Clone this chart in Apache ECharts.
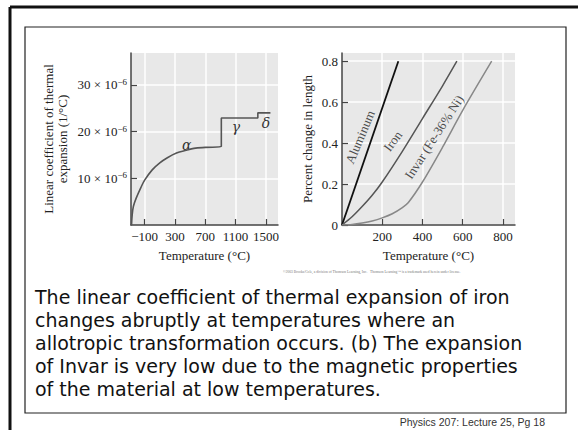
<!DOCTYPE html>
<html>
<head>
<meta charset="utf-8">
<script src="https://cdn.jsdelivr.net/npm/echarts@6/dist/echarts.min.js"></script>
<style>
  html, body { margin: 0; padding: 0; background: #fff; }
  #main { width: 578px; height: 430px; }
</style>
</head>
<body>
<div id="main"></div>
<script>
// (a) linear coefficient of iron, units of 1e-6 per °C
const coefData = [
  [-273, 0], [-264, 2.2], [-248, 4.0], [-210, 5.8], [-150, 8.0], [-100, 9.6],
  [0, 11.8], [100, 13.3], [200, 14.4], [320, 15.4], [450, 16.0], [550, 16.4],
  [700, 16.6], [912, 16.8], [912, 22.9], [1394, 22.9], [1394, 24.0], [1560, 24.0]
];
const phaseLabels = [[455, 17.1, 'α'], [1104, 21.0, 'γ'], [1500, 21.8, 'δ']];
const coefTicksX = [-100, 300, 700, 1100, 1500];
const coefTicksY = [10, 20, 30];

// (b) percent change in length
const aluminumData = [[0, 0], [280, 0.8]];
const ironData = [[0, 0], [50, 0.04], [100, 0.09], [150, 0.145], [200, 0.21], [300, 0.36], [400, 0.52], [500, 0.68], [571, 0.8]];
const invarData = [[0, 0], [50, 0.003], [100, 0.01], [150, 0.02], [200, 0.035], [250, 0.055], [300, 0.085], [330, 0.11], [400, 0.21], [500, 0.38], [600, 0.56], [744, 0.8]];
const lineLabels = [[90, 0.43, 'Aluminum', 67], [252, 0.41, 'Iron', 54], [458, 0.43, 'Invar (Fe-36% Ni)', 57]];
const lengthTicksX = [200, 400, 600, 800];
const lengthTicksY = [0, 0.2, 0.4, 0.6, 0.8];

const caption = [
  'The linear coefficient of thermal expansion of iron',
  'changes abruptly at temperatures where an',
  'allotropic transformation occurs. (b) The expansion',
  'of Invar is very low due to the magnetic properties',
  'of the material at low temperatures.'
];

const serif = '"Liberation Serif", "DejaVu Serif", serif';
const ink = '#222';

const axisLine = { show: true, onZero: false, lineStyle: { color: '#444', width: 1.5 } };
const split = { show: true, lineStyle: { color: '#fff', width: 1.5 } };
const tick = (vals) => ({ show: true, inside: true, length: 6, customValues: vals, lineStyle: { color: '#444', width: 1.2 } });

const chart = echarts.init(document.getElementById('main'), null, { renderer: 'svg' });

const captionText = caption.map((t, i) => ({
  type: 'text', left: 35, top: 287 + i * 23,
  style: { text: t, fill: '#111', font: '19px "DejaVu Sans", Verdana, sans-serif' }
}));

chart.setOption({
  animation: false,
  grid: [
    { left: 131, top: 53, width: 147, height: 172, show: true, backgroundColor: '#e8e8e8', borderWidth: 0 },
    { left: 342, top: 53, width: 173, height: 172, show: true, backgroundColor: '#e8e8e8', borderWidth: 0 }
  ],
  xAxis: [
    {
      gridIndex: 0, type: 'value', min: -280, max: 1660,
      axisLine: axisLine, axisTick: tick(coefTicksX), splitLine: split,
      axisLabel: { customValues: coefTicksX, margin: 5, color: ink, fontFamily: serif, fontSize: 13,
        formatter: (v) => (v < 0 ? '−' + (-v) : '' + v) },
      name: 'Temperature (°C)', nameLocation: 'middle', nameGap: 24,
      nameTextStyle: { color: ink, fontFamily: serif, fontSize: 13 }
    },
    {
      gridIndex: 1, type: 'value', min: 0, max: 860,
      axisLine: axisLine, axisTick: tick(lengthTicksX), splitLine: split,
      axisLabel: { customValues: lengthTicksX, margin: 5, color: ink, fontFamily: serif, fontSize: 13 },
      name: 'Temperature (°C)', nameLocation: 'middle', nameGap: 24,
      nameTextStyle: { color: ink, fontFamily: serif, fontSize: 13 }
    }
  ],
  yAxis: [
    {
      gridIndex: 0, type: 'value', min: 0, max: 36.8,
      axisLine: axisLine, axisTick: tick(coefTicksY), splitLine: split,
      axisLabel: {
        customValues: coefTicksY, margin: 4,
        formatter: (v) => '{a|' + v + ' × 10}{s|−6}',
        rich: {
          a: { color: ink, fontFamily: serif, fontSize: 13 },
          s: { color: ink, fontFamily: serif, fontSize: 9, verticalAlign: 'top', padding: [0, 0, 6, 0] }
        }
      },
      name: 'Linear coefficient of thermal\nexpansion (1/°C)', nameLocation: 'middle', nameGap: 62,
      nameTextStyle: { color: ink, fontFamily: serif, fontSize: 13, lineHeight: 14 }
    },
    {
      gridIndex: 1, type: 'value', min: 0, max: 0.84,
      axisLine: axisLine, axisTick: tick(lengthTicksY), splitLine: split,
      axisLabel: { customValues: lengthTicksY, margin: 4, color: ink, fontFamily: serif, fontSize: 13 },
      name: 'Percent change in length', nameLocation: 'middle', nameGap: 28,
      nameTextStyle: { color: ink, fontFamily: serif, fontSize: 13 }
    }
  ],
  series: [
    {
      type: 'line', xAxisIndex: 0, yAxisIndex: 0, data: coefData, smooth: 0.35,
      showSymbol: false, lineStyle: { color: '#555', width: 1.6 }
    },
    {
      type: 'scatter', xAxisIndex: 0, yAxisIndex: 0, symbolSize: 0, silent: true,
      itemStyle: { color: '#000' },
      data: phaseLabels.map((d) => ({ value: [d[0], d[1]], name: d[2] })),
      label: { show: true, position: 'inside', formatter: '{b}', color: '#000', textBorderWidth: 0,
        fontFamily: '"DejaVu Serif", serif', fontStyle: 'italic', fontSize: 14 }
    },
    {
      type: 'line', xAxisIndex: 1, yAxisIndex: 1, data: aluminumData,
      showSymbol: false, lineStyle: { color: '#111', width: 1.8 }
    },
    {
      type: 'line', xAxisIndex: 1, yAxisIndex: 1, data: ironData, smooth: 0.3,
      showSymbol: false, lineStyle: { color: '#555', width: 1.5 }
    },
    {
      type: 'line', xAxisIndex: 1, yAxisIndex: 1, data: invarData, smooth: 0.3,
      showSymbol: false, lineStyle: { color: '#888', width: 1.5 }
    },
    {
      type: 'scatter', xAxisIndex: 1, yAxisIndex: 1, symbolSize: 0, silent: true,
      itemStyle: { color: ink },
      data: lineLabels.map((d) => ({ value: [d[0], d[1]], name: d[2], label: { rotate: d[3] } })),
      label: { show: true, position: 'inside', formatter: '{b}', color: ink, textBorderWidth: 0,
        fontFamily: serif, fontSize: 13 }
    }
  ],
  graphic: [
    { type: 'line', shape: { x1: 10, y1: 7, x2: 578, y2: 7 }, style: { stroke: '#111', lineWidth: 3 } },
    { type: 'line', shape: { x1: 10, y1: 7, x2: 10, y2: 430 }, style: { stroke: '#111', lineWidth: 3 } },
    { type: 'rect', shape: { x: 25, y: 27, width: 541, height: 386 }, style: { fill: 'none', stroke: '#222', lineWidth: 1.2 } },
    { type: 'text', left: 283, top: 270,
      style: { text: '©2003 Brooks/Cole, a division of Thomson Learning, Inc.   Thomson Learning™ is a trademark used herein under license.',
        fill: '#777', font: '3.6px "Liberation Serif", serif' } },
    { type: 'text', right: 33, top: 416,
      style: { text: 'Physics 207: Lecture 25, Pg 18', fill: '#333', font: '10.5px "Liberation Sans", Arial, sans-serif' } }
  ].concat(captionText)
});
</script>
</body>
</html>
